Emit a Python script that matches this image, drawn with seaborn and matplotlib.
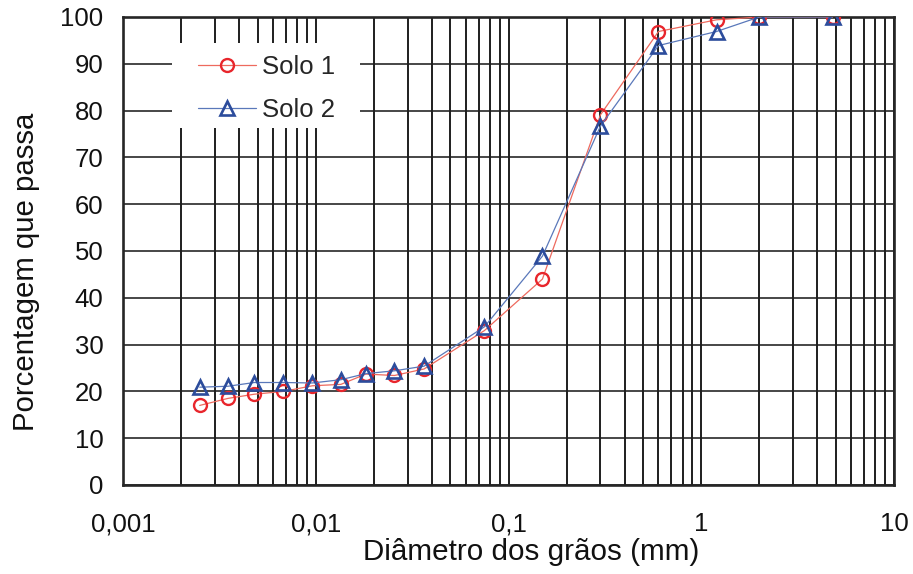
import numpy as np
import pandas as pd
import matplotlib
matplotlib.use("Agg")
import matplotlib.pyplot as plt
from matplotlib.patches import Rectangle
from matplotlib.ticker import LogLocator, NullFormatter
import seaborn as sns

# Grain-size distribution (percent passing vs. particle diameter in mm)
diametros = [0.0025, 0.0035, 0.0048, 0.0068, 0.0096, 0.0135, 0.0182, 0.0256,
             0.0365, 0.075, 0.15, 0.3, 0.6, 1.2, 2.0, 4.8]
solo_1 = [17.0, 18.5, 19.4, 20.0, 21.2, 21.5, 23.7, 23.4,
          24.8, 33.0, 44.0, 79.1, 96.9, 99.4, 100.0, 100.0]
solo_2 = [20.9, 21.1, 21.9, 21.9, 21.8, 22.5, 23.8, 24.4,
          25.4, 33.8, 48.9, 76.7, 93.9, 96.9, 100.0, 100.0]

x_ticks = [0.001, 0.01, 0.1, 1, 10]
x_tick_labels = ["0,001", "0,01", "0,1", "1", "10"]
y_ticks = list(range(0, 101, 10))

sns.set_theme(style="white")
plt.rcParams["font.family"] = ["Liberation Sans", "DejaVu Sans"]
plt.rcParams["axes.axisbelow"] = True

fig = plt.figure(figsize=(9.13, 5.74), dpi=100)
ax = fig.add_axes([123 / 913, 1 - 485 / 574, 771 / 913, 468 / 574])

df = pd.DataFrame({"d": diametros, "s1": solo_1, "s2": solo_2})

sns.lineplot(data=df, x="d", y="s1", ax=ax, color="#ee6a5e", linewidth=0.9,
             marker="o", markersize=9.3, markerfacecolor="none",
             markeredgecolor="#e8262c", markeredgewidth=1.7,
             label="Solo 1", zorder=3)
sns.lineplot(data=df, x="d", y="s2", ax=ax, color="#5a78ba", linewidth=0.9,
             marker="^", markersize=10.5, markerfacecolor="none",
             markeredgecolor="#2c4c9c", markeredgewidth=1.9,
             label="Solo 2", zorder=4)

ax.set_xscale("log")
ax.set_xlim(0.001, 10)
ax.set_ylim(0, 100)
ax.set_xticks(x_ticks)
ax.set_xticklabels(x_tick_labels)
ax.xaxis.set_minor_locator(LogLocator(base=10, subs=np.arange(2, 10)))
ax.xaxis.set_minor_formatter(NullFormatter())
ax.set_yticks(y_ticks)

ax.grid(axis="x", which="both", color="#1e1e1e", linewidth=1.4)
ax.grid(axis="y", which="major", color="#1e1e1e", linewidth=1.15)

ax.tick_params(which="both", length=0, labelsize=18.5, labelcolor="#111111")
ax.tick_params(axis="y", pad=14)
ax.tick_params(axis="x", pad=19.5)

for s in ax.spines.values():
    s.set_visible(True)
    s.set_color("#262626")
    s.set_linewidth(1.9)

# White panel behind the legend hides the grid there
ax.add_patch(Rectangle((0.0636, 0.763), 0.244, 0.1816, transform=ax.transAxes,
                       facecolor="white", edgecolor="none", zorder=1.8))
ax.legend(loc="upper left", bbox_to_anchor=(0.0973, 0.919), frameon=False,
          borderpad=0, borderaxespad=0, handlelength=2.25, handletextpad=0.25,
          labelspacing=0.76, fontsize=18.5)

ax.set_xlabel("Diâmetro dos grãos (mm)", fontsize=21.3, color="#111111")
ax.xaxis.set_label_coords(0.53, -0.113)
ax.set_ylabel("Porcentagem que passa", fontsize=21.2, color="#111111")
ax.yaxis.set_label_coords(-0.108, 0.455)

fig.savefig("out.png", dpi=100)
